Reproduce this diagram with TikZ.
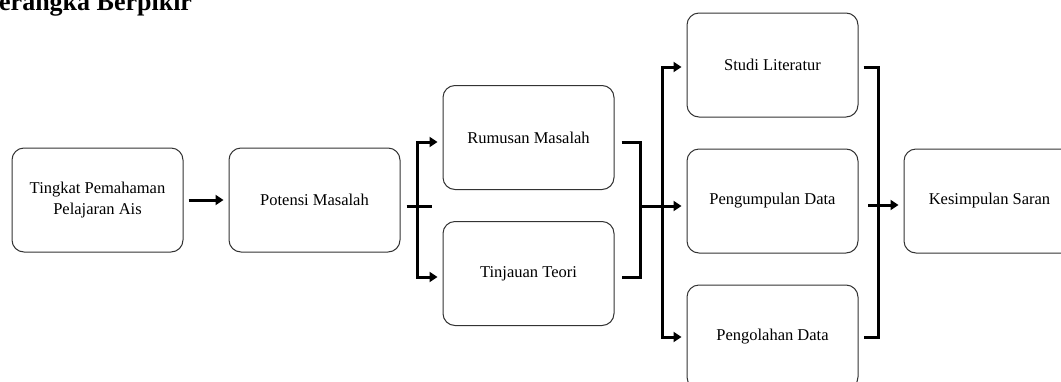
\documentclass[tikz,border=0pt]{standalone}
\usepackage{fontspec}
\setmainfont{Liberation Serif}
\usetikzlibrary{arrows.meta,positioning,calc}
\begin{document}
\begin{tikzpicture}[x=1pt,y=-1pt,
box/.style={draw=black!80,line width=1pt,rounded corners=12pt,minimum width=171pt,minimum height=104pt,align=center,font=\fontsize{16.5}{21}\selectfont},
conn/.style={line width=3pt},
arr/.style={conn,-{Triangle[length=8pt,width=10pt]},shorten >=5pt}]
\useasboundingbox (0,0) rectangle (1061,381);
\node[anchor=base west,inner sep=0pt,font=\bfseries\fontsize{26}{30}\selectfont] (title) at (-1,10) {erangka Berpikir};
\node[box] (tingkat) at (97.5,200) {Tingkat Pemahaman\\Pelajaran Ais};
\node[box,right=45pt of tingkat] (potensi) {Potensi Masalah};
\node[box] (rumusan) at (528.5,137.5) {Rumusan Masalah};
\node[box,below=31pt of rumusan] (tinjauan) {Tinjauan Teori};
\node[box] (studi) at (772.5,65) {Studi Literatur};
\node[box,below=31pt of studi] (pengumpulan) {Pengumpulan Data};
\node[box,below=31pt of pengumpulan] (pengolahan) {Pengolahan Data};
\node[box,right=45pt of pengumpulan] (kesimpulan) {Kesimpulan Saran};
\coordinate (f1) at (417,206);\coordinate (f1a) at (417,142);\coordinate (f1b) at (417,277);
\coordinate (j1) at (640,206);
\coordinate (f2) at (662,206);\coordinate (f2a) at (662,67);\coordinate (f2b) at (662,337);
\coordinate (j2) at (878,205);
\draw[arr] ([xshift=5pt]tingkat.east) -- (potensi);
\draw[conn] ([xshift=6pt,yshift=-6pt]potensi.east) -- ([xshift=15pt]f1);
\draw[arr] (f1) -- (f1a) -- (f1a -| rumusan.west);
\draw[arr] (f1) -- (f1b) -- (f1b -| tinjauan.west);
\draw[conn,shorten <=7pt,shorten >=7pt] (f1a -| rumusan.east) -- (f1a -| j1) -- (f1b -| j1) -- (f1b -| tinjauan.east);
\draw[arr] (j1) -- (j1 -| pengumpulan.west);
\draw[arr] (f2) -- (f2a) -- (f2a -| studi.west);
\draw[arr] (f2) -- (f2b) -- (f2b -| pengolahan.west);
\draw[conn,shorten <=5pt,shorten >=5pt] (f2a -| studi.east) -- (f2a -| j2) -- (f2b -| j2) -- (f2b -| pengolahan.east);
\draw[arr] ([xshift=-10pt]j2) -- (j2 -| kesimpulan.west);
\end{tikzpicture}
\end{document}
